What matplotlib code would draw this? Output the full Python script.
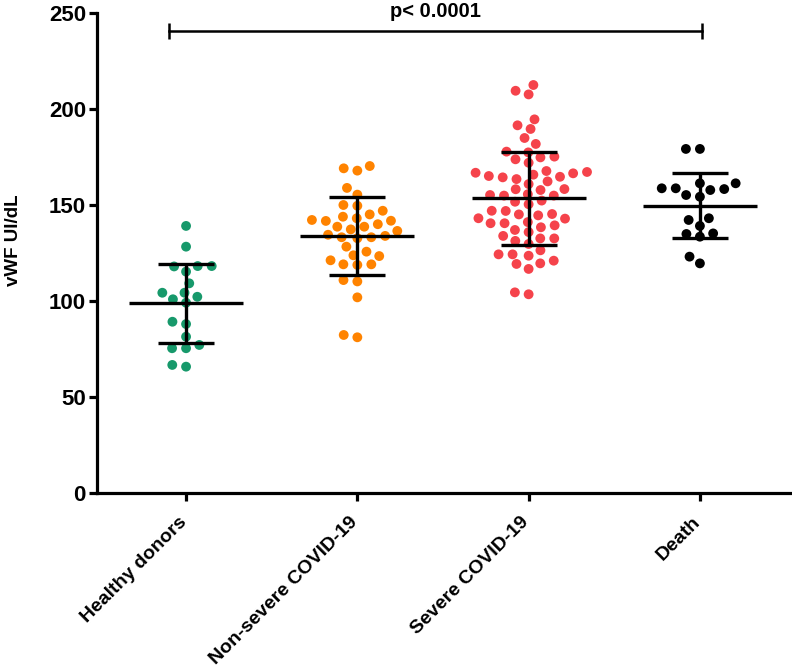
import numpy as np
import matplotlib
matplotlib.use("Agg")
import matplotlib.pyplot as plt
from matplotlib import transforms

plt.rcParams['font.family'] = ['Liberation Sans', 'DejaVu Sans']

categories = ["Healthy donors", "Non-severe COVID-19", "Severe COVID-19", "Death"]

healthy = [139.1, 128.3, 118.2, 118.0, 118.2, 115.3, 109.2, 104.3, 104.3, 100.9,
           102.2, 99.1, 89.2, 88.0, 81.4, 75.4, 75.4, 77.1, 65.8, 66.7]
nonsevere = [170.3, 167.9, 169.1, 158.9, 155.4, 150.0, 149.6, 147.0, 143.9, 145.1,
             142.2, 141.7, 141.8, 143.1, 138.7, 137.3, 138.7, 140.0, 136.5, 133.9,
             133.2, 132.7, 133.2, 134.5, 128.3, 123.8, 121.2, 125.7, 123.4, 119.1,
             118.8, 119.1, 110.2, 110.9, 101.9, 81.1, 82.3]
severe = [212.5, 207.6, 209.5, 194.6, 191.5, 189.6, 184.9, 181.8, 177.8, 177.4,
          175.2, 173.8, 172.0, 174.8, 167.7, 166.8, 165.8, 164.7, 163.5, 160.9,
          162.3, 164.4, 165.1, 166.5, 167.2, 158.3, 157.8, 155.2, 154.9, 154.9,
          155.6, 158.2, 151.7, 152.3, 150.4, 147.0, 145.3, 144.6, 145.1, 146.9,
          142.9, 143.1, 140.5, 139.4, 137.0, 135.9, 138.4, 140.5, 141.1, 132.6,
          131.3, 129.7, 132.6, 133.9, 126.4, 124.3, 121.0, 119.3, 116.7, 119.6,
          123.6, 124.3, 103.5, 104.5]
death = [179.2, 179.2, 161.3, 158.7, 158.3, 155.2, 154.3, 157.8, 158.7, 161.3,
         142.2, 139.1, 143.1, 134.9, 133.5, 135.2, 119.6, 123.1]

means = [99.1, 133.9, 153.5, 149.5]
sd_low = [78.0, 113.5, 129.3, 133.0]
sd_high = [119.3, 154.0, 177.8, 166.8]
colors = ["#17996b", "#ff8300", "#f5434b", "#000000"]
ylabel = "vWF UI/dL"
p_text = "p< 0.0001"
p_y = 240.6
groups = [healthy, nonsevere, severe, death]

W, H = 792, 666
fig = plt.figure(figsize=(W / 100, H / 100), dpi=100)
ax = fig.add_axes([97 / W, 173 / H, (790 - 97) / W, (493 - 13) / H])
ax.set_xlim(-0.52, 3.526)
ax.set_ylim(0, 250)

fig.canvas.draw()
p0 = ax.transData.transform((0, 0))
p1 = ax.transData.transform((1, 1))
ppx, ppy = p1[0] - p0[0], p1[1] - p0[1]


def swarm(vals, a_px, b_px):
    """Beeswarm with an elliptical exclusion zone (a: horizontal, b: vertical)."""
    vals = np.asarray(vals, float)
    order = np.argsort(vals)
    placed = []
    offs = np.zeros(len(vals))

    def free(c, y):
        return all(((c - px) / a_px) ** 2 + ((y - py) / b_px) ** 2 >= 1 - 1e-9
                   for px, py in placed)

    for i in order:
        y = vals[i] * ppy
        cands = [0.0]
        for (px, py) in placed:
            dy = y - py
            if abs(dy) < b_px:
                dx = a_px * np.sqrt(1 - (dy / b_px) ** 2)
                cands += [px + dx, px - dx]
        cands = sorted(cands, key=lambda c: (abs(c), c))
        chosen = 0.0
        for c in cands:
            if free(c, y):
                chosen = c
                break
        placed.append((chosen, y))
        offs[i] = chosen / ppx
    return offs


for i, (vals, col) in enumerate(zip(groups, colors)):
    offs = swarm(vals, 14.0, 10.0)
    ax.scatter(i + offs, vals, s=50, color=col, edgecolors='none', zorder=2)

lw = 2.4
for i in range(len(categories)):
    ax.hlines(means[i], i - 0.333, i + 0.333, color='black', lw=lw, zorder=3)
    ax.vlines(i, sd_low[i], sd_high[i], color='black', lw=lw, zorder=3)
    ax.hlines([sd_low[i], sd_high[i]], i - 0.164, i + 0.164, color='black', lw=lw, zorder=3)

bx0, bx1 = -0.1, 3.01
ax.plot([bx0, bx1], [p_y, p_y], color='black', lw=1.8, clip_on=False, zorder=3)
ax.vlines([bx0, bx1], p_y - 4, p_y + 4, color='black', lw=1.8, clip_on=False, zorder=3)
ax.text((bx0 + bx1) / 2, 248, p_text, ha='center', va='baseline', fontsize=14.5,
        fontweight='bold', clip_on=False)

for s in ['top', 'right']:
    ax.spines[s].set_visible(False)
for s in ['left', 'bottom']:
    ax.spines[s].set_linewidth(2.3)

ax.set_yticks([0, 50, 100, 150, 200, 250])
ax.set_xticks(range(len(categories)))
ax.set_xticklabels(categories, rotation=45, ha='right', rotation_mode='anchor',
                   fontsize=14, fontweight='bold')
ax.tick_params(axis='x', length=6, width=2.3, pad=5)
ax.tick_params(axis='y', length=6, width=2.3, labelsize=16, pad=2)
for lab in ax.get_yticklabels():
    lab.set_fontweight('bold')
shift = transforms.ScaledTranslation(-0.08, -0.05, fig.dpi_scale_trans)
for lab in ax.get_xticklabels():
    lab.set_transform(lab.get_transform() + shift)

fig.text(13 / W, (H - 240) / H, ylabel, rotation=90, ha='center', va='center',
         fontsize=13.5, fontweight='bold')

fig.savefig("out.png", dpi=100)
